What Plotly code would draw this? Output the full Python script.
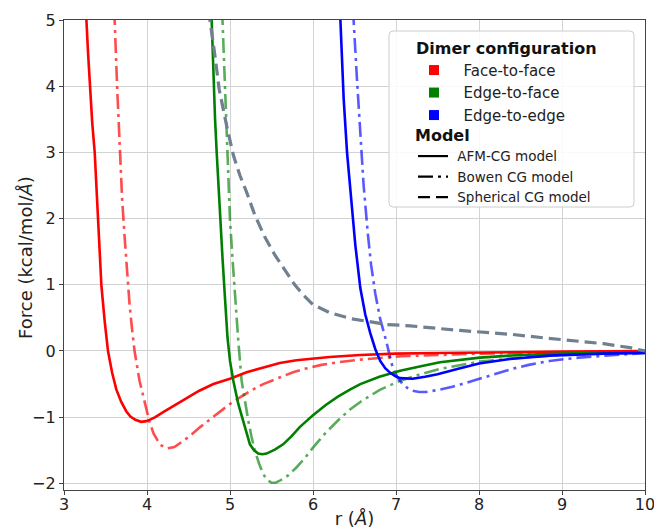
import plotly.graph_objects as go

# ---------------- data ----------------
ff_afm_x = [3.26, 3.27, 3.29, 3.31, 3.34, 3.37, 3.39, 3.41, 3.43, 3.45, 3.49, 3.53, 3.58, 3.63, 3.69, 3.75, 3.80, 3.86, 3.93, 3.99, 4.05, 4.10, 4.20, 4.36, 4.50, 4.63, 4.80, 5.0, 5.2, 5.4, 5.6, 5.8, 6.0, 6.2, 6.57, 7.0, 7.5, 8.0, 9.0, 10.0]
ff_afm_y = [5.15, 5.0, 4.5, 4.0, 3.45, 3.0, 2.45, 2.0, 1.45, 1.0, 0.45, 0.0, -0.33, -0.58, -0.77, -0.91, -0.99, -1.04, -1.07, -1.06, -1.03, -1.0, -0.92, -0.80, -0.70, -0.60, -0.50, -0.42, -0.32, -0.25, -0.18, -0.14, -0.11, -0.09, -0.06, -0.04, -0.03, -0.02, -0.01, 0.0]

ff_bow_x = [3.60, 3.61, 3.64, 3.67, 3.70, 3.73, 3.76, 3.79, 3.82, 3.85, 3.91, 3.98, 4.03, 4.08, 4.16, 4.25, 4.33, 4.40, 4.50, 4.64, 4.77, 4.90, 5.0, 5.12, 5.25, 5.40, 5.58, 5.76, 5.90, 6.10, 6.30, 6.57, 7.06, 7.5, 8.0, 9.0, 10.0]
ff_bow_y = [5.15, 5.0, 4.0, 3.0, 2.3, 1.73, 1.2, 0.7, 0.33, 0.0, -0.45, -0.83, -1.07, -1.25, -1.42, -1.47, -1.45, -1.39, -1.30, -1.15, -1.02, -0.90, -0.80, -0.70, -0.60, -0.50, -0.41, -0.32, -0.27, -0.21, -0.17, -0.13, -0.08, -0.06, -0.04, -0.02, -0.01]

ef_afm_x = [4.775, 4.78, 4.79, 4.80, 4.82, 4.84, 4.86, 4.88, 4.91, 4.94, 4.97, 5.0, 5.04, 5.10, 5.16, 5.20, 5.24, 5.29, 5.34, 5.39, 5.44, 5.54, 5.64, 5.74, 5.84, 5.92, 6.0, 6.15, 6.30, 6.45, 6.57, 6.80, 7.05, 7.30, 7.53, 8.01, 8.5, 9.0, 9.5, 10.0]
ef_afm_y = [5.15, 4.98, 4.5, 4.0, 3.5, 2.99, 2.5, 1.98, 1.4, 0.79, 0.2, -0.15, -0.45, -0.80, -1.05, -1.25, -1.41, -1.50, -1.55, -1.56, -1.55, -1.49, -1.41, -1.29, -1.15, -1.06, -0.97, -0.82, -0.69, -0.58, -0.50, -0.39, -0.30, -0.23, -0.17, -0.10, -0.06, -0.04, -0.03, -0.02]

ef_bow_x = [4.905, 4.91, 4.93, 4.96, 4.98, 5.0, 5.03, 5.06, 5.10, 5.14, 5.18, 5.22, 5.26, 5.30, 5.35, 5.40, 5.45, 5.50, 5.55, 5.60, 5.70, 5.80, 5.90, 6.0, 6.15, 6.30, 6.45, 6.57, 6.80, 7.05, 7.30, 7.53, 8.01, 8.5, 9.0, 9.5, 10.0]
ef_bow_y = [5.15, 4.98, 4.2, 3.29, 2.6, 1.98, 1.4, 0.79, 0.15, -0.45, -0.78, -1.05, -1.30, -1.51, -1.70, -1.86, -1.95, -1.99, -1.99, -1.96, -1.88, -1.76, -1.62, -1.46, -1.24, -1.05, -0.88, -0.77, -0.59, -0.45, -0.35, -0.27, -0.16, -0.10, -0.06, -0.04, -0.02]

ee_afm_x = [6.325, 6.33, 6.35, 6.37, 6.41, 6.46, 6.51, 6.57, 6.63, 6.69, 6.75, 6.81, 6.87, 6.93, 6.99, 7.05, 7.12, 7.20, 7.35, 7.5, 7.75, 8.0, 8.37, 8.85, 9.5, 10.0]
ee_afm_y = [5.15, 4.98, 4.4, 3.8, 3.0, 2.28, 1.6, 0.95, 0.55, 0.27, 0.03, -0.15, -0.26, -0.33, -0.38, -0.41, -0.42, -0.42, -0.39, -0.35, -0.27, -0.19, -0.12, -0.07, -0.04, -0.03]

ee_bow_x = [6.485, 6.49, 6.53, 6.57, 6.61, 6.66, 6.70, 6.75, 6.81, 6.88, 6.92, 6.96, 7.02, 7.08, 7.14, 7.20, 7.28, 7.36, 7.5, 7.68, 7.85, 8.0, 8.2, 8.4, 8.6, 8.85, 9.2, 9.6, 10.0]
ee_bow_y = [5.15, 4.98, 4.1, 3.29, 2.5, 1.78, 1.3, 0.87, 0.48, 0.16, -0.06, -0.25, -0.40, -0.50, -0.56, -0.60, -0.62, -0.62, -0.59, -0.54, -0.48, -0.42, -0.34, -0.27, -0.21, -0.15, -0.10, -0.06, -0.03]

sph_x = [4.745, 4.76, 4.82, 4.87, 4.96, 5.04, 5.12, 5.2, 5.3, 5.42, 5.54, 5.66, 5.78, 5.88, 6.0, 6.2, 6.45, 6.89, 7.17, 7.77, 8.09, 8.4, 8.77, 9.13, 9.5, 9.82, 10.0]
sph_y = [5.15, 4.98, 4.45, 3.95, 3.40, 2.96, 2.65, 2.40, 2.05, 1.72, 1.45, 1.22, 1.0, 0.85, 0.70, 0.58, 0.49, 0.40, 0.38, 0.31, 0.28, 0.25, 0.20, 0.15, 0.11, 0.05, 0.0]

config_names = ["Face-to-face", "Edge-to-face", "Edge-to-edge"]
config_colors = ["#ff0000", "#008000", "#0000ff"]
config_colors_light = ["rgba(255,0,0,0.7)", "rgba(0,128,0,0.65)", "rgba(0,0,255,0.65)"]
model_names = ["AFM-CG model", "Bowen CG model", "Spherical CG model"]
x_ticks = [3, 4, 5, 6, 7, 8, 9, 10]
y_ticks = [-2, -1, 0, 1, 2, 3, 4, 5]

FONT = "DejaVu Sans"
DASHDOT = "15px,5px,3px,5px"
DASH = "12px,6px"

fig = go.Figure()

afm = [(ff_afm_x, ff_afm_y), (ef_afm_x, ef_afm_y), (ee_afm_x, ee_afm_y)]
bow = [(ff_bow_x, ff_bow_y), (ef_bow_x, ef_bow_y), (ee_bow_x, ee_bow_y)]

for (bx, by), c in zip(bow, config_colors_light):
    fig.add_trace(go.Scatter(x=bx, y=by, mode="lines", showlegend=False,
                             line=dict(color=c, width=2.6, dash=DASHDOT)))
for (ax_, ay), c in zip(afm, config_colors):
    fig.add_trace(go.Scatter(x=ax_, y=ay, mode="lines", showlegend=False,
                             line=dict(color=c, width=2.6)))
fig.add_trace(go.Scatter(x=sph_x, y=sph_y, mode="lines", showlegend=False,
                         line=dict(color="#708090", width=3.2, dash=DASH)))

# legend entries: configuration
for name, c in zip(config_names, config_colors):
    fig.add_trace(go.Scatter(x=[None], y=[None], mode="markers", name="\u00a0\u00a0" + name,
                             marker=dict(symbol="square", size=10, color=c), legend="legend"))
# legend entries: model
for name, d in zip(model_names, ["solid", DASHDOT, DASH]):
    fig.add_trace(go.Scatter(x=[None], y=[None], mode="lines", name="\u00a0" + name,
                             line=dict(color="black", width=2.2, dash=d), legend="legend2"))

# plot area in pixels
L, R, T, B = 64, 9, 20, 39
W, H = 654, 529
pw, ph = W - L - R, H - T - B

def px(xp):
    return (xp - L) / pw

def py(yp):
    return (H - B - yp) / ph

# legend frame
x0, x1, y0, y1 = px(389), px(634), py(207), py(31)
rx, ry = 4 / pw, 4 / ph
path = (f"M {x0+rx},{y0} L {x1-rx},{y0} Q {x1},{y0} {x1},{y0+ry} L {x1},{y1-ry} Q {x1},{y1} {x1-rx},{y1} "
        f"L {x0+rx},{y1} Q {x0},{y1} {x0},{y1-ry} L {x0},{y0+ry} Q {x0},{y0} {x0+rx},{y0} Z")
fig.add_shape(type="path", path=path, xref="paper", yref="paper", layer="above",
              line=dict(color="#cccccc", width=1), fillcolor="rgba(255,255,255,0.85)")

# y-axis title (placed as in the reference)
fig.add_annotation(text="Force (kcal/mol/<i>Å</i>)", xref="paper", yref="paper",
                   x=px(25), y=py(258), xanchor="center", yanchor="middle", textangle=-90,
                   showarrow=False, font=dict(family=FONT, size=18, color="#222222"))

axis_common = dict(showgrid=True, gridcolor="#d3d3d3", gridwidth=1.2, zeroline=False,
                   showline=True, linecolor="#444444", linewidth=1.2, mirror=True,
                   ticks="outside", ticklen=4, tickcolor="#444444", tickwidth=1.2,
                   ticklabeloverflow="allow",
                   tickfont=dict(family=FONT, size=16, color="#222222"))

fig.update_layout(
    width=W, height=H,
    margin=dict(l=L, r=R, t=T, b=B, autoexpand=False),
    plot_bgcolor="white", paper_bgcolor="white",
    font=dict(family=FONT, color="#222222"),
    xaxis=dict(range=[3, 10], tickvals=x_ticks, ticktext=[str(v) for v in x_ticks],
               ticklabelstandoff=-4,
               title=dict(text="r (<i>Å</i>)", font=dict(family=FONT, size=18), standoff=3),
               **axis_common),
    yaxis=dict(range=[-2.1, 5], tickvals=y_ticks, ticktext=[("\u2212" + str(-v)) if v < 0 else str(v) for v in y_ticks],
               **axis_common),
    legend=dict(x=px(414), y=py(33), xanchor="left", yanchor="top",
                bgcolor="rgba(0,0,0,0)", borderwidth=0,
                font=dict(family=FONT, size=15, color="#222222"),
                title=dict(text="<b>Dimer configuration</b>", font=dict(family=FONT, size=16, color="#111111")),
                tracegroupgap=0),
    legend2=dict(x=px(413), y=py(120), xanchor="left", yanchor="top",
                 bgcolor="rgba(0,0,0,0)", borderwidth=0,
                 font=dict(family=FONT, size=13.5, color="#222222"),
                 title=dict(text="<b>Model</b>", font=dict(family=FONT, size=16, color="#111111")),
                 tracegroupgap=0),
)

fig.write_html("out.html")
